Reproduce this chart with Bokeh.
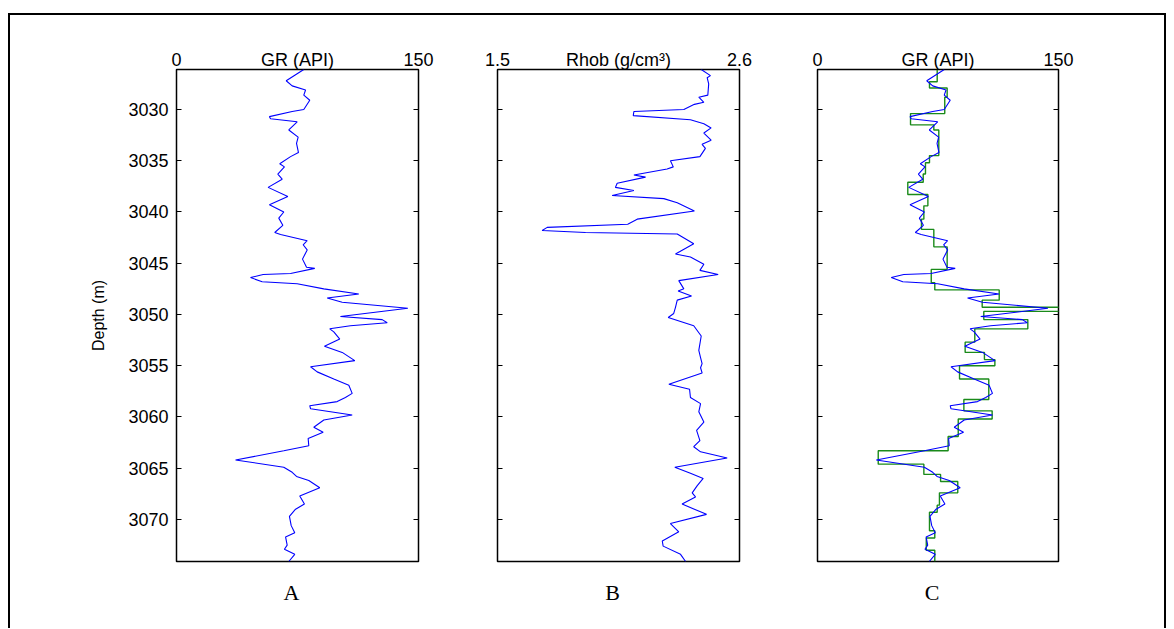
from bokeh.plotting import figure
from bokeh.layouts import row
from bokeh.models import Range1d, LinearAxis, FixedTicker
from bokeh.embed import file_html
from bokeh.resources import INLINE
import numpy as np

# ---------------- data ----------------
depth_top = 3026.1
depth_bottom = 3074.1
depth_ticks = [3030, 3035, 3040, 3045, 3050, 3055, 3060, 3065, 3070]

gr_depth = [3026.1, 3027.2, 3027.7, 3028.1, 3028.6, 3029.1, 3030.0, 3030.2, 3030.7, 3030.9,
            3031.2, 3032.0, 3032.7, 3033.3, 3034.2, 3034.6, 3035.3, 3035.6, 3036.3, 3036.8,
            3037.6, 3038.5, 3039.3, 3040.0, 3040.6, 3041.3, 3042.0, 3042.2, 3042.8, 3043.2,
            3043.7, 3044.6, 3045.4, 3045.5, 3046.0, 3046.1, 3046.4, 3046.8, 3047.0, 3047.5,
            3048.0, 3048.4, 3048.8, 3049.4, 3050.2, 3050.5, 3050.8, 3051.1, 3051.4, 3051.7,
            3052.4, 3053.1, 3053.7, 3054.5, 3055.1, 3055.6, 3056.3, 3056.9, 3057.7, 3058.1,
            3058.5, 3058.9, 3059.2, 3059.8, 3060.3, 3061.0, 3061.5, 3062.1, 3062.8, 3063.3,
            3064.2, 3064.9, 3065.4, 3065.8, 3066.2, 3066.9, 3067.7, 3068.5, 3069.0, 3069.7,
            3070.6, 3071.3, 3071.7, 3072.5, 3072.9, 3073.4, 3074.1]
gr_api = [78.9, 68.0, 71.7, 80.0, 78.9, 82.6, 78.9, 71.7, 57.6, 58.3,
          74.8, 69.6, 75.4, 74.4, 75.6, 70.7, 64.0, 66.9, 62.8, 65.5,
          56.8, 69.0, 57.6, 66.5, 63.4, 65.9, 60.9, 64.5, 81.0, 78.5,
          81.0, 78.1, 80.6, 85.7, 70.7, 53.7, 45.9, 53.1, 74.8, 91.3,
          113.0, 93.4, 102.7, 143.4, 101.6, 127.5, 130.6, 107.8, 95.0, 97.5,
          101.2, 91.7, 102.7, 110.5, 83.1, 87.2, 97.5, 106.8, 108.9, 104.7,
          99.6, 82.6, 83.1, 108.9, 91.3, 85.1, 90.9, 81.6, 82.0, 66.5,
          36.6, 66.5, 71.7, 74.4, 82.0, 88.8, 76.4, 79.3, 73.8, 70.0,
          71.1, 73.3, 67.6, 68.6, 66.9, 73.3, 69.6]

rhob_depth = [3026.1, 3026.7, 3026.9, 3027.5, 3028.6, 3028.8, 3029.3, 3029.5, 3030.0, 3030.2,
              3030.6, 3031.0, 3031.4, 3031.8, 3032.3, 3033.0, 3033.4, 3033.8, 3034.6, 3035.0,
              3035.6, 3035.8, 3036.4, 3036.6, 3037.2, 3037.6, 3037.9, 3038.4, 3038.7, 3039.1,
              3039.9, 3040.7, 3041.2, 3041.5, 3041.8, 3042.0, 3042.15, 3043.1, 3044.1, 3044.4,
              3045.1, 3045.7, 3046.1, 3046.7, 3047.5, 3047.7, 3048.2, 3048.6, 3049.3, 3049.9,
              3050.3, 3051.1, 3052.1, 3053.5, 3054.2, 3054.8, 3055.2, 3055.7, 3056.8, 3057.3,
              3058.1, 3058.7, 3059.5, 3060.5, 3061.3, 3062.3, 3062.9, 3063.4, 3064.0, 3064.9,
              3065.5, 3066.0, 3066.7, 3067.4, 3067.8, 3068.5, 3069.5, 3070.4, 3071.2, 3072.1,
              3072.6, 3073.4, 3074.1]
rhob = [2.426, 2.468, 2.453, 2.460, 2.456, 2.415, 2.438, 2.395, 2.347, 2.120,
        2.117, 2.377, 2.438, 2.471, 2.438, 2.471, 2.430, 2.445, 2.420, 2.286,
        2.299, 2.271, 2.120, 2.173, 2.044, 2.036, 2.120, 2.021, 2.256, 2.317,
        2.395, 2.135, 2.092, 1.726, 1.703, 1.900, 2.317, 2.392, 2.309, 2.377,
        2.438, 2.420, 2.503, 2.324, 2.347, 2.321, 2.382, 2.317, 2.309, 2.301,
        2.276, 2.392, 2.426, 2.415, 2.423, 2.430, 2.423, 2.430, 2.279, 2.373,
        2.377, 2.423, 2.415, 2.438, 2.405, 2.420, 2.392, 2.423, 2.544, 2.306,
        2.377, 2.435, 2.408, 2.385, 2.400, 2.339, 2.450, 2.286, 2.324, 2.249,
        2.253, 2.332, 2.355]

block_top = [3026.1, 3027.3, 3027.9, 3028.8, 3030.4, 3031.5, 3032.0, 3034.5, 3035.2, 3036.3,
             3037.1, 3038.3, 3039.4, 3040.7, 3041.7, 3043.4, 3045.6, 3046.9, 3047.6, 3048.6,
             3049.3, 3049.7, 3050.5, 3051.4, 3052.7, 3053.7, 3054.4, 3055.0, 3056.3, 3058.3,
             3059.4, 3060.2, 3061.9, 3063.3, 3064.6, 3065.6, 3066.3, 3067.4, 3068.6, 3069.3,
             3071.1, 3071.8, 3073.0]
block_gr = [74.5, 69.7, 80.7, 79.2, 57.9, 72.4, 75.5, 69.7, 67.2, 65.8,
            56.2, 68.7, 66.2, 64.7, 72.4, 80.7, 70.8, 73.0, 113.1, 102.5,
            150.8, 103.5, 130.9, 97.9, 91.9, 103.9, 110.4, 88.4, 106.6, 91.1,
            108.7, 87.6, 81.3, 37.8, 66.2, 76.6, 87.3, 75.9, 74.5, 69.7,
            73.0, 67.7, 73.0]

gr_range = (0, 150)
gr_ticks = [0, 150]
rhob_range = (1.5, 2.6)
rhob_ticks = [1.5, 2.6]

# step curve built from the block arrays
block_base = block_top[1:] + [depth_bottom]
step_x = np.repeat(block_gr, 2)
step_y = np.column_stack([block_top, block_base]).ravel()

FONT = "Liberation Sans"
TICK_FS = "18px"


def make_panel(xr, xticks, title, letter, bl, br, fw, show_depth):
    p = figure(frame_width=fw, frame_height=492,
               min_border_left=bl, min_border_right=br,
               min_border_top=54, min_border_bottom=67,
               x_range=Range1d(*xr), y_range=Range1d(depth_bottom, depth_top),
               x_axis_location=None, y_axis_location=None,
               output_backend="svg", toolbar_location=None)
    p.grid.visible = False
    p.outline_line_color = "black"
    p.outline_line_width = 1.5
    p.outline_line_alpha = 1.0
    p.background_fill_color = "white"
    p.border_fill_color = "white"

    span = xr[1] - xr[0]
    mid = xr[0] + span / 2
    letter_pos = mid - span * 6.0 / fw   # letter sits a few pixels left of centre

    # top axis: end values plus the curve title in the middle
    top = LinearAxis(ticker=FixedTicker(ticks=[xticks[0], mid, xticks[1]]))
    top.major_label_overrides = {mid: title}
    top.major_tick_line_color = None
    top.major_tick_in = 0
    top.major_tick_out = 0
    top.minor_tick_line_color = None
    top.axis_line_color = None
    top.major_label_standoff = 0
    top.major_label_text_font = FONT
    top.major_label_text_font_size = TICK_FS
    top.major_label_text_color = "black"
    p.add_layout(top, "above")

    # bottom axis carries only the panel letter
    bot = LinearAxis(ticker=FixedTicker(ticks=[letter_pos]))
    bot.major_label_overrides = {letter_pos: letter}
    bot.major_tick_line_color = None
    bot.major_tick_in = 0
    bot.major_tick_out = 0
    bot.minor_tick_line_color = None
    bot.axis_line_color = None
    bot.major_label_standoff = 18
    bot.major_label_text_font = "Liberation Serif"
    bot.major_label_text_font_size = "22px"
    bot.major_label_text_color = "black"
    p.add_layout(bot, "below")

    for side in ("left", "right"):
        ax = LinearAxis(ticker=FixedTicker(ticks=depth_ticks))
        ax.major_tick_in = 5
        ax.major_tick_out = 0
        ax.major_tick_line_color = "black"
        ax.major_tick_line_width = 1
        ax.minor_tick_line_color = None
        ax.axis_line_color = None
        if side == "left" and show_depth:
            ax.major_label_standoff = 8
            ax.major_label_text_font = FONT
            ax.major_label_text_font_size = TICK_FS
            ax.major_label_text_color = "black"
            ax.axis_label = "Depth (m)"
            ax.axis_label_text_font = FONT
            ax.axis_label_text_font_size = "16px"
            ax.axis_label_text_font_style = "normal"
            ax.axis_label_text_color = "black"
            ax.axis_label_standoff = 18
        else:
            ax.major_label_overrides = {t: "" for t in depth_ticks}
        p.add_layout(ax, side)
    return p


pa = make_panel(gr_range, gr_ticks, "GR (API)", "A", 166, 39, 242, True)
pa.line(gr_api, gr_depth, line_color="#0000ff", line_width=1.1)

pb = make_panel(rhob_range, rhob_ticks, "Rhob (g/cm\u00b3)", "B", 40, 39, 242, False)
pb.line(rhob, rhob_depth, line_color="#0000ff", line_width=1.1)

pc = make_panel(gr_range, gr_ticks, "GR (API)", "C", 39, 106, 241, False)
pc.line(step_x, step_y, line_color="#1a8a1a", line_width=1.4)
pc.line(gr_api, gr_depth, line_color="#0000ff", line_width=1.1)

layout = row(pa, pb, pc, spacing=0)
layout.margin = (15, 0, 0, 10)
layout.styles = {"box-shadow": "-2px 0 0 0 black, 2px 0 0 0 black, 0 -2px 0 0 black, "
                               "-2px -2px 0 0 black, 2px -2px 0 0 black"}

open("out.html", "w").write(file_html(layout, INLINE))
